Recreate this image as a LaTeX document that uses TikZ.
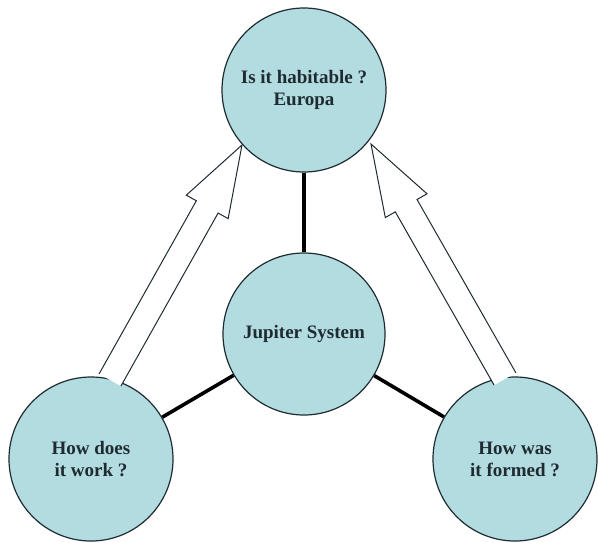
\documentclass[tikz,border=0pt]{standalone}
\usepackage{fontspec}
\setmainfont{Liberation Serif}
\usetikzlibrary{calc}
\definecolor{bubble}{HTML}{B2DCE0}
\definecolor{ink}{HTML}{1E2B31}
\tikzset{
  bubble/.style={circle, draw=ink, line width=1.2pt, fill=bubble, minimum size=164pt, inner sep=0pt,
    align=center, text=ink, font=\fontsize{19}{22}\selectfont\bfseries},
  link/.style={line width=3.6pt, black},
  hollow/.style={draw=ink, line width=1pt, fill=white, line join=miter}
}
\begin{document}
\begin{tikzpicture}[x=1pt,y=-1pt]
\useasboundingbox (0,0) rectangle (598,542);
\node[bubble] (top) at (304,90) {Is it habitable ?\\Europa};
\node[bubble, minimum size=162pt] (mid) at (304,334) {Jupiter System};
\node[bubble] (left) at (91,459) {How does\\it work ?};
\node[bubble] (right) at (515,459) {How was\\it formed ?};
\draw[link] (top) -- (mid);
\draw[link] (left) -- (mid);
\draw[link] (right) -- (mid);
% hollow arrows
\coordinate (tL) at (242,145);
\coordinate (bL) at (110,380);
\coordinate (tR) at (371,144);
\coordinate (bR) at (505,379);
\coordinate (nL) at ($(tL)!71pt!(bL)$);
\coordinate (nR) at ($(tR)!71pt!(bR)$);
\draw[hollow] ($(bL)!12.5pt!90:(tL)$) -- ($(nL)!12.5pt!90:(tL)$) -- ($(nL)!24pt!90:(tL)$) -- (tL)
  -- ($(nL)!24pt!-90:(tL)$) -- ($(nL)!12.5pt!-90:(tL)$) -- ($(bL)!12.5pt!-90:(tL)$);
\draw[hollow] ($(bR)!12.5pt!90:(tR)$) -- ($(nR)!12.5pt!90:(tR)$) -- ($(nR)!24pt!90:(tR)$) -- (tR)
  -- ($(nR)!24pt!-90:(tR)$) -- ($(nR)!12.5pt!-90:(tR)$) -- ($(bR)!12.5pt!-90:(tR)$);
\end{tikzpicture}
\end{document}
